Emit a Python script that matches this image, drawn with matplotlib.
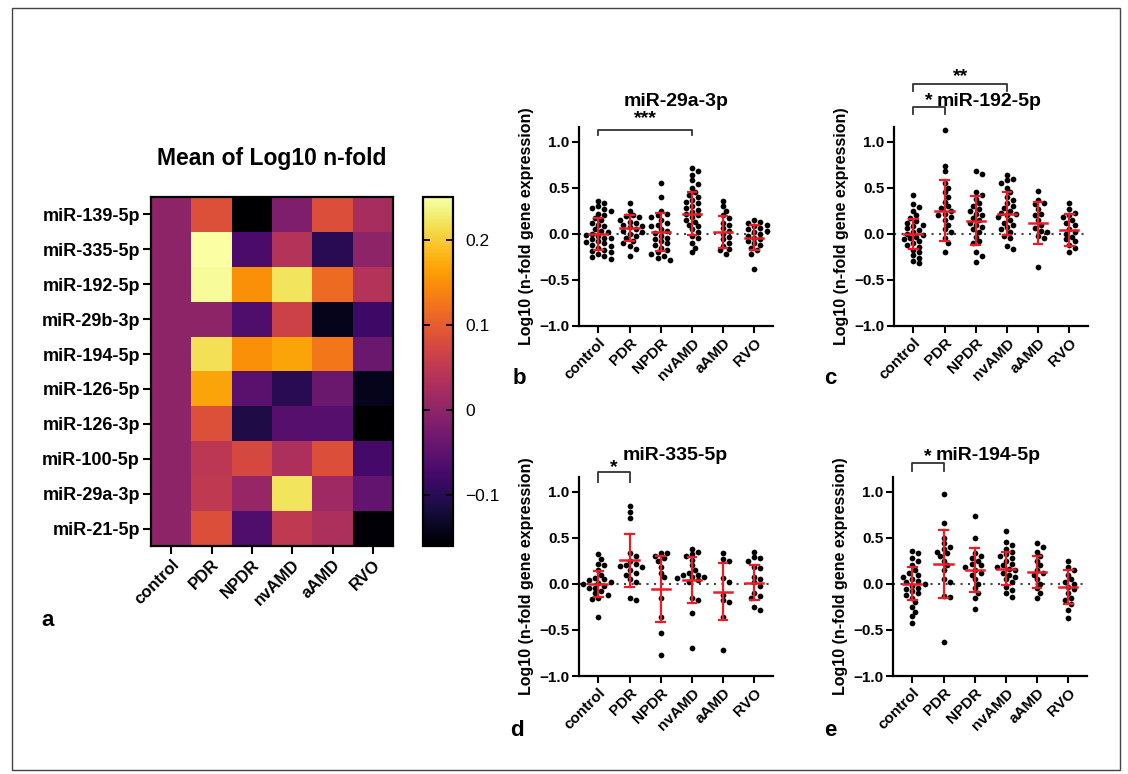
import numpy as np
import matplotlib
matplotlib.use("Agg")
import matplotlib.pyplot as plt
from matplotlib.patches import Rectangle

plt.rcParams['font.family'] = ['Liberation Sans', 'DejaVu Sans']
plt.rcParams['axes.unicode_minus'] = True

W, H = 1128, 774

# ---------------- data ----------------
groups = ["control", "PDR", "NPDR", "nvAMD", "aAMD", "RVO"]
mirnas = ["miR-139-5p", "miR-335-5p", "miR-192-5p", "miR-29b-3p", "miR-194-5p",
          "miR-126-5p", "miR-126-3p", "miR-100-5p", "miR-29a-3p", "miR-21-5p"]

hm_control = [0, 0, 0, 0, 0, 0, 0, 0, 0, 0]
hm_PDR = [0.086, 0.25, 0.245, 0.0, 0.217, 0.168, 0.086, 0.045, 0.05, 0.085]
hm_NPDR = [-0.16, -0.07, 0.15, -0.065, 0.15, -0.053, -0.11, 0.074, 0.008, -0.065]
hm_nvAMD = [-0.016, 0.037, 0.22, 0.065, 0.168, -0.10, -0.057, 0.03, 0.22, 0.05]
hm_aAMD = [0.085, -0.10, 0.115, -0.14, 0.127, -0.037, -0.057, 0.085, 0.016, 0.03]
hm_RVO = [0.025, 0.0, 0.037, -0.08, -0.037, -0.14, -0.16, -0.074, -0.045, -0.155]

cbar_ticks = [-0.1, 0, 0.1, 0.2]
cbar_ticklabels = ["\u22120.1", "0", "0.1", "0.2"]

# panel b : miR-29a-3p
b_control = [0.36, 0.33, 0.30, 0.28, 0.27, 0.25, 0.22, 0.20, 0.17, 0.15, 0.12, 0.10, 0.08, 0.05,
             0.03, 0.02, 0.00, -0.01, -0.02, -0.04, -0.05, -0.06, -0.08, -0.09, -0.10, -0.12,
             -0.13, -0.15, -0.17, -0.19, -0.20, -0.22, -0.24, -0.25, -0.27]
b_PDR = [0.33, 0.25, 0.20, 0.19, 0.18, 0.15, 0.13, 0.12, 0.10, 0.08, 0.07, 0.05, 0.03, 0.02,
         0.00, -0.02, -0.05, -0.08, -0.10, -0.13, -0.16, -0.24]
b_NPDR = [0.55, 0.40, 0.25, 0.22, 0.20, 0.18, 0.15, 0.12, 0.10, 0.08, 0.05, 0.03, 0.01, -0.02,
          -0.04, -0.06, -0.08, -0.10, -0.12, -0.15, -0.18, -0.20, -0.22, -0.24, -0.26, -0.28]
b_nvAMD = [0.71, 0.68, 0.64, 0.58, 0.54, 0.50, 0.45, 0.42, 0.40, 0.37, 0.35, 0.33, 0.30, 0.28,
           0.26, 0.24, 0.22, 0.20, 0.18, 0.15, 0.13, 0.10, 0.08, 0.05, 0.02, -0.02, -0.05,
           -0.10, -0.15, -0.20]
b_aAMD = [0.36, 0.30, 0.25, 0.20, 0.17, 0.12, 0.10, 0.06, 0.03, 0.00, -0.03, -0.06, -0.10,
          -0.13, -0.16, -0.18, -0.22]
b_RVO = [0.15, 0.13, 0.12, 0.10, 0.08, 0.06, 0.05, 0.03, 0.02, 0.00, -0.02, -0.04, -0.06,
         -0.08, -0.10, -0.12, -0.15, -0.18, -0.22, -0.38]
b_mean = [0.0, 0.06, 0.02, 0.22, 0.02, -0.04]
b_sd = [0.175, 0.14, 0.21, 0.23, 0.17, 0.135]

# panel c : miR-192-5p
c_control = [0.42, 0.32, 0.29, 0.25, 0.20, 0.17, 0.14, 0.12, 0.10, 0.08, 0.06, 0.04, 0.02,
             0.00, -0.01, -0.03, -0.05, -0.06, -0.08, -0.10, -0.12, -0.14, -0.17, -0.20,
             -0.23, -0.26, -0.29, -0.32]
c_PDR = [1.13, 0.74, 0.68, 0.55, 0.50, 0.45, 0.40, 0.35, 0.30, 0.28, 0.25, 0.22, 0.20, 0.18,
         0.15, 0.10, 0.05, 0.02, -0.05, -0.10, -0.20]
c_NPDR = [0.68, 0.65, 0.45, 0.42, 0.38, 0.33, 0.30, 0.27, 0.25, 0.22, 0.20, 0.17, 0.15, 0.12,
          0.10, 0.07, 0.05, 0.02, -0.03, -0.08, -0.10, -0.20, -0.24, -0.30]
c_nvAMD = [0.64, 0.60, 0.58, 0.55, 0.50, 0.45, 0.40, 0.37, 0.33, 0.30, 0.28, 0.25, 0.23, 0.22,
           0.20, 0.18, 0.15, 0.12, 0.10, 0.07, 0.05, 0.02, -0.02, -0.05, -0.13, -0.16]
c_aAMD = [0.47, 0.37, 0.34, 0.32, 0.27, 0.22, 0.20, 0.15, 0.10, 0.06, 0.03, 0.02, -0.02,
          -0.05, -0.36]
c_RVO = [0.33, 0.27, 0.23, 0.20, 0.18, 0.15, 0.12, 0.10, 0.05, 0.02, 0.00, -0.03, -0.06,
         -0.08, -0.12, -0.15, -0.20]
c_mean = [0.0, 0.25, 0.145, 0.22, 0.12, 0.04]
c_sd = [0.165, 0.33, 0.265, 0.23, 0.23, 0.175]

# panel d : miR-335-5p
d_control = [0.32, 0.27, 0.22, 0.20, 0.15, 0.10, 0.06, 0.05, 0.04, 0.02, 0.01, 0.00, -0.02,
             -0.04, -0.05, -0.08, -0.10, -0.12, -0.15, -0.16, -0.36]
d_PDR = [0.85, 0.78, 0.71, 0.34, 0.30, 0.25, 0.22, 0.20, 0.19, 0.18, 0.15, 0.12, 0.10, 0.05,
         0.02, -0.15, -0.17]
d_NPDR = [0.33, 0.33, 0.30, 0.28, 0.25, 0.18, 0.12, 0.07, -0.15, -0.36, -0.53, -0.77]
d_nvAMD = [0.38, 0.35, 0.32, 0.30, 0.26, 0.20, 0.15, 0.12, 0.10, 0.10, 0.08, 0.07, 0.06, 0.04,
           0.02, -0.15, -0.18, -0.32, -0.70]
d_aAMD = [0.34, 0.27, 0.25, 0.06, 0.02, -0.12, -0.18, -0.20, -0.36, -0.72]
d_RVO = [0.35, 0.29, 0.28, 0.25, 0.18, 0.17, 0.08, 0.05, 0.02, -0.02, -0.10, -0.13, -0.15,
         -0.25, -0.28]
d_mean = [0.0, 0.255, -0.055, 0.04, -0.085, 0.01]
d_sd = [0.143, 0.29, 0.36, 0.25, 0.31, 0.19]

# panel e : miR-194-5p
e_control = [0.36, 0.33, 0.28, 0.25, 0.20, 0.15, 0.12, 0.10, 0.08, 0.05, 0.03, 0.02, 0.00,
             -0.02, -0.04, -0.06, -0.08, -0.10, -0.12, -0.15, -0.20, -0.25, -0.30, -0.35, -0.43]
e_PDR = [0.98, 0.66, 0.50, 0.44, 0.40, 0.38, 0.35, 0.33, 0.30, 0.25, 0.20, 0.15, 0.05, 0.02,
         -0.13, -0.14, -0.63]
e_NPDR = [0.74, 0.50, 0.33, 0.30, 0.28, 0.25, 0.22, 0.20, 0.18, 0.15, 0.12, 0.10, 0.05, 0.00,
          -0.05, -0.10, -0.15, -0.27]
e_nvAMD = [0.57, 0.45, 0.42, 0.38, 0.35, 0.32, 0.30, 0.28, 0.25, 0.22, 0.20, 0.18, 0.16, 0.15,
           0.12, 0.10, 0.08, 0.05, 0.02, -0.03, -0.07, -0.10, -0.14]
e_aAMD = [0.44, 0.40, 0.35, 0.30, 0.25, 0.20, 0.15, 0.12, 0.10, 0.05, 0.00, -0.05, -0.10, -0.15]
e_RVO = [0.25, 0.18, 0.15, 0.10, 0.05, 0.02, 0.00, -0.03, -0.06, -0.10, -0.15, -0.18, -0.22,
         -0.28, -0.37]
e_mean = [0.0, 0.215, 0.15, 0.165, 0.13, -0.03]
e_sd = [0.18, 0.37, 0.235, 0.18, 0.175, 0.185]

# ---------------- drawing ----------------
fig = plt.figure(figsize=(W / 100, H / 100), dpi=100)


def add_ax(l, t, r, b):
    return fig.add_axes([l / W, 1 - b / H, (r - l) / W, (b - t) / H])


def ftext(x, y, s, **kw):
    fig.text(x / W, 1 - y / H, s, **kw)


# outer frame
fig.add_artist(Rectangle((12 / W, 1 - 770 / H), (1120 - 12) / W, (770 - 8) / H,
                         transform=fig.transFigure, fill=False, lw=1.0, ec='#444444'))

# heatmap
axh = add_ax(151, 197, 393, 546)
mat = np.column_stack([hm_control, hm_PDR, hm_NPDR, hm_nvAMD, hm_aAMD, hm_RVO])
im = axh.imshow(mat, cmap='inferno', vmin=-0.16, vmax=0.25, aspect='auto',
                interpolation='nearest')
axh.set_xticks(range(len(groups)))
axh.set_xticklabels(groups, rotation=45, ha='right', rotation_mode='anchor',
                    fontsize=12, fontweight='bold')
axh.set_yticks(range(len(mirnas)))
axh.set_yticklabels(mirnas, fontsize=13, fontweight='bold')
axh.tick_params(length=6, width=1.5, pad=2)
for s in axh.spines.values():
    s.set_linewidth(1.6)
ftext(272, 159, "Mean of Log10 n-fold", ha='center', va='center', fontsize=16.5,
      fontweight='bold')

cax = add_ax(423, 197, 453, 546)
cb = fig.colorbar(im, cax=cax, ticks=cbar_ticks)
cb.ax.set_yticklabels(cbar_ticklabels, fontsize=12.5)
cb.ax.tick_params(direction='in', left=True, right=True, length=5, width=1.3, pad=9)
cb.outline.set_linewidth(1.6)

ftext(48, 620, "a", ha='center', va='center', fontsize=16, fontweight='bold')

RED = '#ec1c24'


def swarm_offsets(vals, ypx, xpx, d):
    vals = np.asarray(vals, float)
    order = np.argsort(-vals)
    placed = []
    offs = np.zeros(len(vals))
    steps = [0.0]
    for k in range(1, 12):
        steps += [k * d * 0.55, -k * d * 0.55]
    for i in order:
        y = vals[i] * ypx
        for sx in steps:
            ok = all((sx - px) ** 2 + (y - py) ** 2 >= (d * 0.92) ** 2 for px, py in placed)
            if ok:
                break
        placed.append((sx, y))
        offs[i] = sx / xpx
    return offs


def panel(box, title, title_xy, data, means, sds, brackets, letter_xy, letter):
    ax = add_ax(*box)
    ax.set_xlim(-0.62, 5.6)
    ax.set_ylim(-1.0, 1.16)
    ax.axhline(0, color='#444444', lw=1.5, ls=(0, (1, 2.6)), zorder=1)
    xpx = (box[2] - box[0]) / 6.22
    ypx = (box[3] - box[1]) / 2.16
    for i, vals in enumerate(data):
        off = swarm_offsets(vals, ypx, xpx, 5.6)
        ax.scatter(i + off, vals, s=17, color='black', zorder=2, linewidths=0)
        m, sd = means[i], sds[i]
        ax.plot([i, i], [m - sd, m + sd], color=RED, lw=1.6, zorder=3)
        ax.plot([i - 0.14, i + 0.14], [m + sd, m + sd], color=RED, lw=1.6, zorder=3)
        ax.plot([i - 0.14, i + 0.14], [m - sd, m - sd], color=RED, lw=1.6, zorder=3)
        ax.plot([i - 0.29, i + 0.29], [m, m], color=RED, lw=1.8, zorder=3)
    for (g0, g1, ytop, ytip, ystar, stars) in brackets:
        ax.plot([g0, g0, g1, g1], [ytip, ytop, ytop, ytip], color='#333333', lw=1.3,
                clip_on=False)
        ax.text((g0 + g1) / 2, ystar, stars, ha='center', va='center', fontsize=14,
                fontweight='bold', clip_on=False)
    ax.spines['top'].set_visible(False)
    ax.spines['right'].set_visible(False)
    ax.spines['left'].set_linewidth(1.6)
    ax.spines['bottom'].set_linewidth(1.6)
    ax.set_yticks([-1.0, -0.5, 0.0, 0.5, 1.0])
    ax.set_yticklabels(["\u22121.0", "\u22120.5", "0.0", "0.5", "1.0"], fontsize=11,
                       fontweight='bold')
    ax.set_xticks(range(len(groups)))
    ax.set_xticklabels(groups, rotation=45, ha='right', rotation_mode='anchor',
                       fontsize=11, fontweight='bold')
    ax.tick_params(length=5, width=1.5, pad=2)
    ax.set_ylabel("Log10 (n-fold gene expression)", fontsize=11.5, fontweight='bold',
                  labelpad=4)
    ftext(title_xy[0], title_xy[1], title, ha='center', va='center', fontsize=14,
          fontweight='bold')
    ftext(letter_xy[0], letter_xy[1], letter, ha='center', va='center', fontsize=16,
          fontweight='bold')
    return ax


panel((579, 127, 773, 326), "miR-29a-3p", (676, 101),
      [b_control, b_PDR, b_NPDR, b_nvAMD, b_aAMD, b_RVO], b_mean, b_sd,
      [(0, 3, 1.13, 1.07, 1.25, "***")], (519, 379), "b")
panel((894, 127, 1088, 326), "miR-192-5p", (989, 101),
      [c_control, c_PDR, c_NPDR, c_nvAMD, c_aAMD, c_RVO], c_mean, c_sd,
      [(0, 1, 1.38, 1.30, 1.45, "*"), (0, 3, 1.63, 1.55, 1.71, "**")], (830, 379), "c")
panel((579, 477, 773, 676), "miR-335-5p", (675, 455),
      [d_control, d_PDR, d_NPDR, d_nvAMD, d_aAMD, d_RVO], d_mean, d_sd,
      [(0, 1, 1.21, 1.11, 1.26, "*")], (517, 730), "d")
panel((893, 477, 1087, 676), "miR-194-5p", (988, 455),
      [e_control, e_PDR, e_NPDR, e_nvAMD, e_aAMD, e_RVO], e_mean, e_sd,
      [(0, 1, 1.31, 1.23, 1.38, "*")], (830, 730), "e")

fig.savefig("out.png", dpi=100, facecolor='white')
